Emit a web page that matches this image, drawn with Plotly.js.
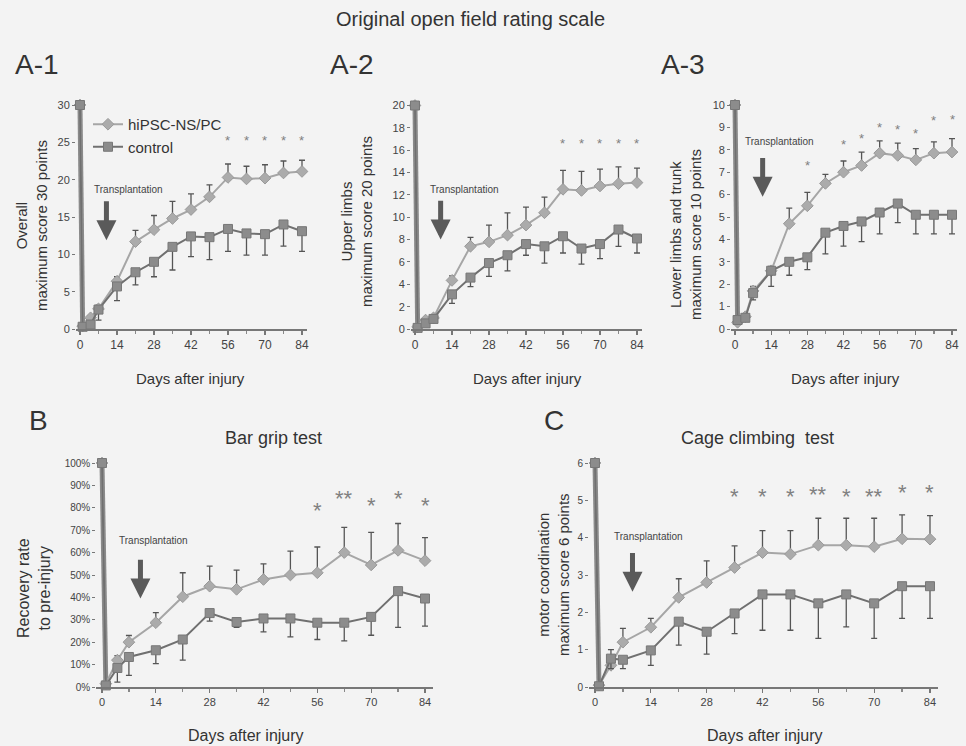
<!DOCTYPE html>
<html>
<head>
<meta charset="utf-8">
<script src="https://cdn.plot.ly/plotly-3.0.1.min.js"></script>
<style>html,body{margin:0;padding:0;background:#f3f3f3;}#chart{width:966px;height:746px;}</style>
</head>
<body>
<div id="chart"></div>
<script>
// ---------- data ----------
const days = [0, 1, 4, 7, 14, 21, 28, 35, 42, 49, 56, 63, 70, 77, 84];
const xTicks = [0, 14, 28, 42, 56, 70, 84];

// A-1 Overall (max 30)
const a1Hipsc = [30, 0.4, 1.5, 2.7, 6.4, 11.7, 13.3, 14.8, 16.0, 17.7, 20.3, 20.1, 20.2, 20.9, 21.1];
const a1HipscErr = [0, 0, 0.3, 0.5, 0.6, 1.5, 1.9, 2.3, 2.1, 1.6, 1.8, 1.7, 1.8, 1.6, 1.5];
const a1Control = [30, 0.3, 0.6, 2.6, 5.7, 7.6, 9.0, 11.0, 12.4, 12.3, 13.4, 12.8, 12.7, 14.0, 13.1];
const a1ControlErr = [0, 0, 0.4, 1.4, 1.9, 1.7, 2.0, 3.1, 2.7, 3.0, 3.0, 2.9, 2.8, 2.9, 2.7];
const a1StarDays = [56, 63, 70, 77, 84];
const a1StarY = [25.3, 25.3, 25.3, 25.3, 25.3];
const a1StarText = ["*", "*", "*", "*", "*"];

// A-2 Upper limbs (max 20)
const a2Hipsc = [20, 0.2, 0.8, 1.0, 4.35, 7.4, 7.8, 8.4, 9.3, 10.4, 12.5, 12.4, 12.8, 13.0, 13.1];
const a2HipscErr = [0, 0, 0.2, 0.2, 0.4, 0.8, 1.5, 2.0, 1.6, 1.4, 1.7, 1.7, 1.5, 1.5, 1.3];
const a2Control = [20, 0.1, 0.5, 0.9, 3.1, 4.6, 5.9, 6.6, 7.6, 7.4, 8.3, 7.2, 7.6, 8.9, 8.1];
const a2ControlErr = [0, 0, 0.2, 0.3, 0.8, 0.8, 1.2, 1.4, 1.0, 1.5, 1.5, 1.4, 1.3, 1.5, 1.3];
const a2StarDays = [56, 63, 70, 77, 84];
const a2StarY = [16.6, 16.6, 16.6, 16.6, 16.6];
const a2StarText = ["*", "*", "*", "*", "*"];

// A-3 Lower limbs and trunk (max 10)
const a3Hipsc = [10, 0.3, 0.55, 1.7, 2.6, 4.7, 5.5, 6.5, 7.0, 7.3, 7.85, 7.75, 7.55, 7.85, 7.9];
const a3HipscErr = [0, 0, 0.1, 0.2, 0.2, 0.7, 0.6, 0.4, 0.5, 0.6, 0.55, 0.55, 0.5, 0.5, 0.6];
const a3Control = [10, 0.4, 0.5, 1.6, 2.6, 3.0, 3.2, 4.3, 4.6, 4.8, 5.2, 5.6, 5.1, 5.1, 5.1];
const a3ControlErr = [0, 0, 0.1, 0.3, 0.7, 0.6, 0.55, 0.95, 0.9, 0.9, 0.95, 0.85, 0.85, 0.85, 0.85];
const a3StarDays = [28, 42, 49, 56, 63, 70, 77, 84];
const a3StarY = [7.3, 8.25, 8.5, 9.0, 8.9, 8.75, 9.3, 9.35];
const a3StarText = ["*", "*", "*", "*", "*", "*", "*", "*"];

// B Bar grip test (% of pre-injury)
const bHipsc = [100, 1.5, 12, 20, 28.7, 40.3, 45, 43.6, 48, 50, 51, 60, 54.5, 61, 56.4];
const bHipscErr = [0, 0, 2, 3, 4.5, 10.7, 9, 8.6, 7, 10.7, 11.5, 11.3, 14.5, 12, 10.3];
const bControl = [100, 0.7, 8.5, 13.4, 16.4, 21.2, 33, 29, 30.6, 30.6, 28.7, 28.7, 31.3, 42.8, 39.5];
const bControlErr = [0, 0, 6.3, 8.2, 6, 9.2, 3.6, 2.4, 6, 8.2, 7.5, 8.1, 8.2, 16.2, 12.3];
const bStarDays = [56, 63, 70, 77, 84];
const bStarY = [78.7, 84, 81, 84.3, 81];
const bStarText = ["*", "**", "*", "*", "*"];

// C Cage climbing test (max 6)
const cHipsc = [6, 0.05, 0.58, 1.2, 1.6, 2.4, 2.8, 3.2, 3.6, 3.56, 3.8, 3.8, 3.76, 3.97, 3.96];
const cHipscErr = [0, 0, 0.42, 0.37, 0.24, 0.5, 0.58, 0.58, 0.59, 0.63, 0.72, 0.72, 0.76, 0.64, 0.63];
const cControl = [6, 0.02, 0.76, 0.73, 0.98, 1.75, 1.48, 1.97, 2.48, 2.48, 2.24, 2.48, 2.24, 2.7, 2.7];
const cControlErr = [0, 0, 0.27, 0.24, 0.4, 0.63, 0.6, 0.54, 0.96, 0.96, 0.94, 0.87, 0.94, 0.86, 0.86];
const cStarDays = [35, 42, 49, 56, 63, 70, 77, 84];
const cStarY = [5.1, 5.1, 5.1, 5.15, 5.1, 5.1, 5.2, 5.2];
const cStarText = ["*", "*", "*", "**", "*", "**", "*", "*"];

// Transplantation arrow (day, tail value, head value) and label position per panel
const arrowDay = [10, 9.7, 10.7, 10, 9.4];
const arrowTail = [17.3, 11.6, 7.7, 57.5, 3.63];
const arrowHead = [11.9, 8.0, 5.9, 39.5, 2.55];
const labelDay = [18.2, 18.9, 17.4, 13.5, 13.3];
const labelVal = [18.7, 12.5, 8.35, 65.6, 4.04];

// ---------- layout helpers ----------
const W = 966, H = 746;
const FONT = "Liberation Sans, Arial, Helvetica, sans-serif";
const XR = [-1.5, 86];
function domX(p0, p84, r) {
  const k = (p84 - p0) / 84;
  return [(p0 + r[0] * k) / W, (p0 + r[1] * k) / W];
}
function domY(p0, pMax, vMax, r) {
  const k = (p0 - pMax) / vMax;
  const bot = p0 - r[0] * k, top = p0 - r[1] * k;
  return [1 - bot / H, 1 - top / H];
}

const panels = [
  {id: "", hip: a1Hipsc, hipE: a1HipscErr, con: a1Control, conE: a1ControlErr, max: 30, dt: 5,
   px: [80, 302], py: [329, 105], sd: a1StarDays, sy: a1StarY, st: a1StarText, sf: 13, suffix: ""},
  {id: "2", hip: a2Hipsc, hipE: a2HipscErr, con: a2Control, conE: a2ControlErr, max: 20, dt: 2,
   px: [415, 637], py: [329, 105.5], sd: a2StarDays, sy: a2StarY, st: a2StarText, sf: 13, suffix: ""},
  {id: "3", hip: a3Hipsc, hipE: a3HipscErr, con: a3Control, conE: a3ControlErr, max: 10, dt: 1,
   px: [735, 952], py: [329, 105], sd: a3StarDays, sy: a3StarY, st: a3StarText, sf: 13, suffix: ""},
  {id: "4", hip: bHipsc, hipE: bHipscErr, con: bControl, conE: bControlErr, max: 100, dt: 10,
   px: [102, 425], py: [687, 463], sd: bStarDays, sy: bStarY, st: bStarText, sf: 22, suffix: "%"},
  {id: "5", hip: cHipsc, hipE: cHipscErr, con: cControl, conE: cControlErr, max: 6, dt: 1,
   px: [595, 930], py: [687, 463], sd: cStarDays, sy: cStarY, st: cStarText, sf: 22, suffix: ""}
];

const zeros = days.map(() => 0);
const traces = [];
const layout = {
  width: W, height: H,
  margin: {l: 0, r: 0, t: 0, b: 0},
  paper_bgcolor: "#f3f3f3",
  plot_bgcolor: "rgba(0,0,0,0)",
  font: {family: FONT, color: "#333"},
  showlegend: true,
  legend: {x: 88 / W, y: 1 - 108 / H, xanchor: "left", yanchor: "top",
           bgcolor: "rgba(0,0,0,0)", font: {size: 15, color: "#333", family: FONT}, tracegroupgap: 0},
  annotations: [],
  shapes: []
};

panels.forEach((p, i) => {
  const xa = "x" + p.id, ya = "y" + p.id;
  const yr = [0, p.max * 1.03];
  const small = i >= 3;
  // pre-injury drop (day 0 -> day 1), drawn thick as in the original
  traces.push({
    type: "scatter", mode: "lines", x: days.slice(0, 2), y: p.con.slice(0, 2),
    xaxis: xa, yaxis: ya, showlegend: false, hoverinfo: "skip",
    line: {color: "#8a8a8a", width: 5}
  });
  traces.push({
    type: "scatter", mode: "lines+markers", name: "hiPSC-NS/PC",
    x: days, y: p.hip, xaxis: xa, yaxis: ya, showlegend: i === 0, cliponaxis: false,
    line: {color: "#a6a6a6", width: 2},
    marker: {symbol: "diamond", size: 9, color: "#ababab", line: {color: "#999", width: 1}},
    error_y: {type: "data", symmetric: false, array: p.hipE, arrayminus: zeros,
              color: "#555", thickness: 1.3, width: 3}
  });
  traces.push({
    type: "scatter", mode: "lines+markers", name: "control",
    x: days, y: p.con, xaxis: xa, yaxis: ya, showlegend: i === 0, cliponaxis: false,
    line: {color: "#707070", width: 2},
    marker: {symbol: "square", size: 9, color: "#8c8c8c", line: {color: "#777", width: 1}},
    error_y: {type: "data", symmetric: false, array: zeros, arrayminus: p.conE,
              color: "#555", thickness: 1.3, width: 3}
  });
  layout["xaxis" + p.id] = {
    domain: domX(p.px[0], p.px[1], XR), anchor: ya, range: XR,
    tickmode: "array", tickvals: xTicks, ticktext: xTicks.map(String),
    showline: true, linecolor: "#777", linewidth: 1.5,
    ticks: "outside", ticklen: 4, tickcolor: "#777", tickwidth: 1.2,
    minor: {dtick: 7, tick0: 0, ticks: "outside", ticklen: 3, tickcolor: "#888"},
    showgrid: false, zeroline: false,
    tickfont: {size: small ? 11 : 12, color: "#444", family: FONT}
  };
  layout["yaxis" + p.id] = {
    domain: domY(p.py[0], p.py[1], p.max, yr), anchor: xa, range: yr,
    tick0: 0, dtick: p.dt, ticksuffix: p.suffix,
    showline: false, ticks: "outside", ticklen: 3, tickcolor: "#777",
    showgrid: false, zeroline: false,
    tickfont: {size: small ? 10 : 11, color: "#444", family: FONT}
  };
  // significance stars
  p.sd.forEach((d, j) => {
    layout.annotations.push({xref: xa, yref: ya, x: d, y: p.sy[j], text: p.st[j], showarrow: false,
      font: {size: p.sf, color: "#808080", family: FONT}});
  });
  // transplantation arrow and label
  layout.annotations.push({xref: xa, yref: ya, x: arrowDay[i], y: arrowHead[i],
    axref: xa, ayref: ya, ax: arrowDay[i], ay: arrowTail[i], text: "", showarrow: true,
    arrowhead: 2, arrowsize: 0.8, arrowwidth: 5, arrowcolor: "#5a5a5a", standoff: 0});
  layout.annotations.push({xref: xa, yref: ya, x: labelDay[i], y: labelVal[i], text: "Transplantation",
    showarrow: false, font: {size: 10, color: "#444", family: FONT}});
});

// text labels (paper coordinates)
function pt(text, x, y, size, angle, extra) {
  layout.annotations.push(Object.assign({xref: "paper", yref: "paper", x: x / W, y: 1 - y / H,
    text: text, showarrow: false, textangle: angle || 0, xanchor: "center", yanchor: "middle",
    font: {size: size, color: "#333", family: FONT}}, extra || {}));
}
pt("Original open field rating scale", 470, 19, 20);
pt("A-1", 37, 65, 28);
pt("A-2", 352, 65, 28);
pt("A-3", 683, 65, 28);
pt("B", 38, 420, 28);
pt("C", 554, 420, 28);
pt("Bar grip test", 273, 438, 18);
pt("Cage climbing  test", 757, 438, 18);
pt("Overall<br>maximum score 30 points", 32, 226, 15, -90);
pt("Upper limbs<br>maximum score 20 points", 357, 222, 15, -90);
pt("Lower limbs and trunk<br>maximum score 10 points", 685, 235, 15, -90);
pt("Recovery rate<br>to pre-injury", 34, 588, 16, -90);
pt("motor coordination<br>maximum score 6 points", 553, 575, 15, -90);
pt("Days after injury", 190, 378, 15);
pt("Days after injury", 527, 378, 15);
pt("Days after injury", 845, 378, 15);
pt("Days after injury", 246, 735, 16);
pt("Days after injury", 765, 735, 16);

Plotly.newPlot("chart", traces, layout, {displayModeBar: false, staticPlot: true});
</script>
</body>
</html>
